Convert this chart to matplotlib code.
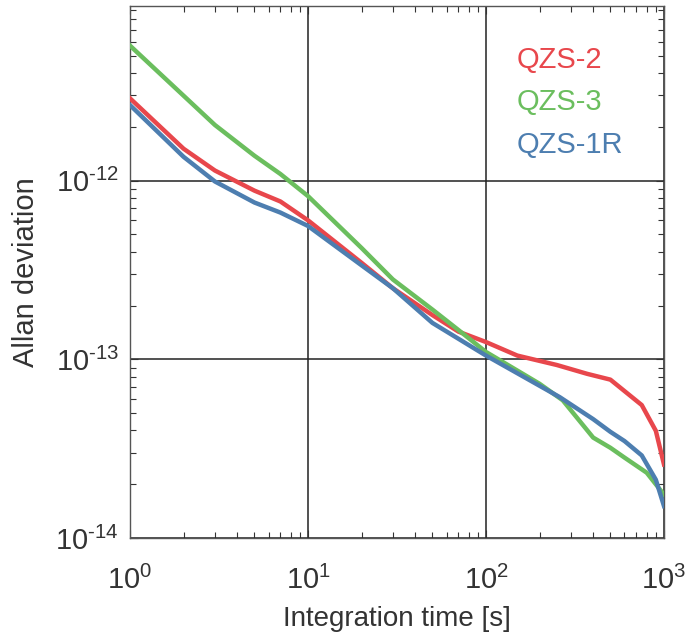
import math
import matplotlib
matplotlib.use("Agg")
from matplotlib import pyplot as plt
from matplotlib import ticker

plt.rcParams['font.family'] = ['Liberation Sans', 'DejaVu Sans']
plt.rcParams['mathtext.fontset'] = 'custom'
plt.rcParams['mathtext.rm'] = 'Liberation Sans'
plt.rcParams['mathtext.it'] = 'Liberation Sans'

# Allan deviation vs. integration time for each satellite clock
tau_qzs2 = [1, 2, 3, 5, 7, 10, 20, 30, 50, 70, 100, 150, 250, 370, 500, 750, 900, 1000]
adev_qzs2 = [2.89e-12, 1.51e-12, 1.14e-12, 8.8e-13, 7.65e-13, 6.0e-13, 3.47e-13, 2.5e-13,
             1.77e-13, 1.43e-13, 1.25e-13, 1.05e-13, 9.3e-14, 8.3e-14, 7.7e-14, 5.55e-14,
             3.98e-14, 2.58e-14]

tau_qzs3 = [1, 3, 5, 7, 10, 20, 30, 50, 70, 100, 200, 270, 400, 500, 600, 800, 1000]
adev_qzs3 = [5.7e-12, 2.05e-12, 1.38e-12, 1.09e-12, 8.2e-13, 4.2e-13, 2.8e-13, 1.9e-13,
             1.46e-13, 1.1e-13, 7.3e-14, 5.9e-14, 3.65e-14, 3.2e-14, 2.82e-14, 2.32e-14,
             1.75e-14]

tau_qzs1r = [1, 2, 3, 5, 7, 10, 20, 30, 50, 100, 260, 400, 500, 600, 750, 900, 1000]
adev_qzs1r = [2.65e-12, 1.36e-12, 9.9e-13, 7.55e-13, 6.63e-13, 5.58e-13, 3.36e-13, 2.5e-13,
              1.6e-13, 1.05e-13, 6.14e-14, 4.63e-14, 3.93e-14, 3.49e-14, 2.9e-14, 2.12e-14,
              1.51e-14]

x_major = [1, 10, 100, 1000]
y_major = [1e-14, 1e-13, 1e-12]

fig = plt.figure(figsize=(6.9, 6.39), dpi=100)
ax = fig.add_axes([0.1884, 0.158, 0.7739, 0.8326])

ax.plot(tau_qzs2, adev_qzs2, color='#e8474c', lw=3.2, label='QZS-2', zorder=3)
ax.plot(tau_qzs3, adev_qzs3, color='#6bbe5e', lw=3.2, label='QZS-3', zorder=3)
ax.plot(tau_qzs1r, adev_qzs1r, color='#4d7eb0', lw=3.2, label='QZS-1R', zorder=3)

ax.set_xscale('log')
ax.set_yscale('log')
ax.set_xlim(1, 1000)
ax.set_ylim(1e-14, 9.5e-12)


def pow10(v, pos):
    e = round(math.log10(v))
    s = str(e).replace('-', '\u2010')
    return r'$10^{\mathrm{%s}}$' % s


ax.xaxis.set_major_locator(ticker.FixedLocator(x_major))
ax.yaxis.set_major_locator(ticker.FixedLocator(y_major))
ax.xaxis.set_major_formatter(ticker.FuncFormatter(pow10))
ax.yaxis.set_major_formatter(ticker.FuncFormatter(pow10))

ax.grid(True, which='major', color='#222222', lw=1.1)
ax.tick_params(which='both', direction='in', top=True, right=True, colors='#333333',
               labelcolor='#333333', labelsize=21, width=0.8)
ax.tick_params(which='major', length=6)
ax.tick_params(axis='x', which='major', pad=20)
ax.tick_params(axis='y', which='major', pad=8)
ax.tick_params(which='minor', length=4)
for s in ax.spines.values():
    s.set_color('#555555')
    s.set_linewidth(1.0)

ax.set_xlabel('Integration time [s]', fontsize=20, color='#333333', labelpad=8)
ax.set_ylabel('Allan deviation', fontsize=21, color='#333333', labelpad=11)

leg = ax.legend(loc='upper left', bbox_to_anchor=(0.674, 0.975), frameon=False,
                handlelength=0, handletextpad=0, labelcolor='linecolor',
                fontsize=21, labelspacing=0.5)
for h in leg.legend_handles:
    h.set_visible(False)

fig.savefig('out.png', dpi=100)
